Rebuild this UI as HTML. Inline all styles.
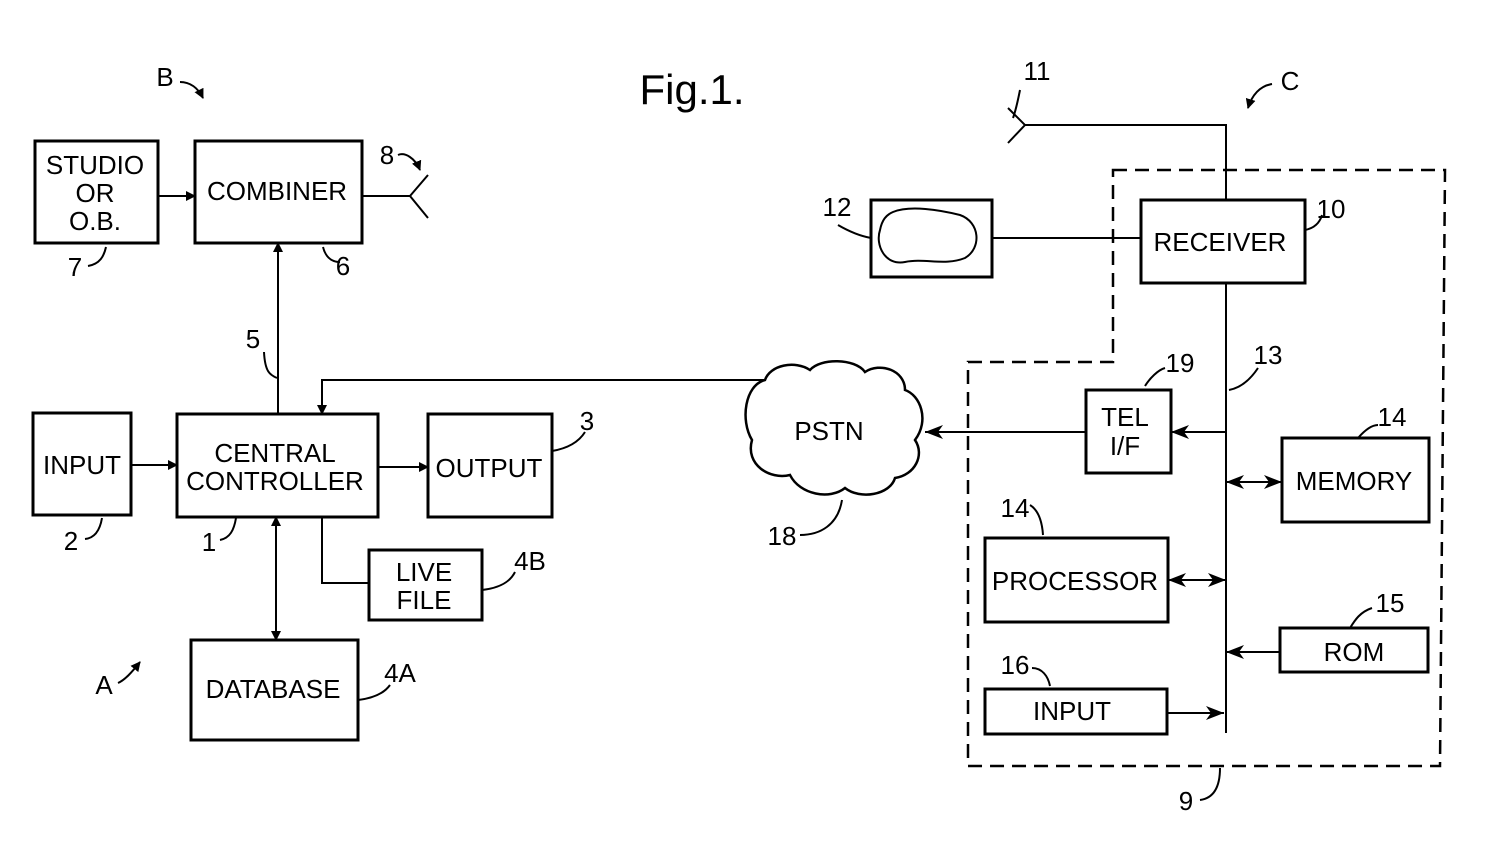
<!DOCTYPE html>
<html><head><style>
html,body{margin:0;padding:0;background:#fff;}
svg{display:block;}
text{font-family:"Liberation Sans",Arial,sans-serif;fill:#000;}
</style></head><body>
<svg width="1488" height="850" viewBox="0 0 1488 850" xmlns="http://www.w3.org/2000/svg">
<defs>
<marker id="a" markerWidth="10" markerHeight="10" refX="9" refY="5" orient="auto-start-reverse" markerUnits="userSpaceOnUse"><path d="M0,0 L10,5 L0,10 z" fill="#000"/></marker>
<marker id="b" markerWidth="20" markerHeight="20" refX="18" refY="10" orient="auto-start-reverse" markerUnits="userSpaceOnUse"><path d="M0,3 L18,10 L0,17 L5,10 z" fill="#000"/></marker>
</defs>
<g fill="none" stroke="#000" stroke-width="3">
<rect x="35" y="141" width="123" height="102"/>
<rect x="195" y="141" width="167" height="102"/>
<rect x="33" y="413" width="98" height="102"/>
<rect x="177" y="414" width="201" height="103"/>
<rect x="428" y="414" width="124" height="103"/>
<rect x="369" y="550" width="113" height="70"/>
<rect x="191" y="640" width="167" height="100"/>
<rect x="871" y="200" width="121" height="77"/>
<rect x="1141" y="200" width="164" height="83"/>
<rect x="1086" y="390" width="85" height="83"/>
<rect x="1282" y="438" width="147" height="84"/>
<rect x="985" y="538" width="183" height="84"/>
<rect x="1280" y="628" width="148" height="44"/>
<rect x="985" y="689" width="182" height="45"/>
</g>
<path d="M1113,170 L1445,170 L1440,766 L968,766 L968,362 L1113,362 Z" fill="none" stroke="#000" stroke-width="2.5" stroke-dasharray="14,8"/>
<g fill="none" stroke="#000" stroke-width="2">
<path d="M893,212 C910,205 940,210 960,215 C980,222 982,248 965,258 C945,266 925,258 905,262 C885,266 875,245 880,230 C882,220 886,215 893,212 Z"/>
<line x1="158" y1="196" x2="195" y2="196" marker-end="url(#a)"/>
<line x1="131" y1="465" x2="177" y2="465" marker-end="url(#a)"/>
<line x1="378" y1="467" x2="428" y2="467" marker-end="url(#a)"/>
<line x1="362" y1="196" x2="410" y2="196"/>
<path d="M428,175 L410,196 L428,218"/>
<line x1="278" y1="414" x2="278" y2="243" marker-end="url(#a)"/>
<path d="M765,380 L322,380 L322,414" marker-end="url(#a)"/>
<path d="M322,517 L322,583 L369,583"/>
<line x1="276" y1="517" x2="276" y2="640" marker-start="url(#a)" marker-end="url(#a)"/>
<path d="M1226,200 L1226,125 L1025,125"/>
<path d="M1008,108 L1025,125 L1008,143"/>
<line x1="992" y1="238" x2="1141" y2="238"/>
<line x1="1226" y1="283" x2="1226" y2="733"/>
<line x1="1086" y1="432" x2="925" y2="432" marker-end="url(#b)"/>
<line x1="1226" y1="432" x2="1171" y2="432" marker-end="url(#b)"/>
<line x1="1226" y1="482" x2="1282" y2="482" marker-start="url(#b)" marker-end="url(#b)"/>
<line x1="1168" y1="580" x2="1226" y2="580" marker-start="url(#b)" marker-end="url(#b)"/>
<line x1="1280" y1="652" x2="1226" y2="652" marker-end="url(#b)"/>
<line x1="1167" y1="713" x2="1224" y2="713" marker-end="url(#b)"/>
<path d="M765,380 C745,385 740,420 752,440 C745,465 770,480 790,475 C800,495 830,500 845,488 C860,500 890,495 895,478 C915,475 925,455 915,440 C930,420 920,395 905,390 C905,370 880,362 865,372 C855,358 820,358 810,370 C795,360 770,365 765,380 Z" stroke-width="2.5" fill="#fff"/>
<path d="M180,82 C190,82 198,88 203,98" marker-end="url(#a)"/>
<path d="M1272,84 C1260,86 1252,95 1248,108" marker-end="url(#a)"/>
<path d="M398,155 C405,152 415,158 420,170" marker-end="url(#a)"/>
<path d="M118,683 C125,680 132,672 140,662" marker-end="url(#a)"/>
<path d="M88,266 C100,264 104,256 106,247"/>
<path d="M340,262 C330,262 325,255 323,247"/>
<path d="M277,378 C270,375 265,372 264,352"/>
<path d="M85,539 C95,538 100,530 102,518"/>
<path d="M220,540 C230,538 234,530 236,518"/>
<path d="M552,451 C570,448 580,440 585,432"/>
<path d="M482,590 C500,588 510,582 515,572"/>
<path d="M358,700 C375,698 385,692 390,685"/>
<path d="M1020,90 C1018,100 1016,110 1013,118"/>
<path d="M838,225 C850,232 860,236 871,238"/>
<path d="M1305,230 C1315,228 1320,222 1322,215"/>
<path d="M1145,386 C1150,378 1158,370 1165,368"/>
<path d="M1229,390 C1240,388 1250,380 1258,368"/>
<path d="M1358,438 C1365,430 1372,425 1378,425"/>
<path d="M1350,628 C1355,620 1360,612 1372,608"/>
<path d="M1030,505 C1038,510 1042,520 1043,535"/>
<path d="M1032,668 C1042,668 1048,676 1050,686"/>
<path d="M800,535 C820,535 838,525 842,500"/>
<path d="M1200,800 C1215,798 1220,785 1220,768"/>
</g>
<g font-size="26" text-anchor="middle">
<text x="692" y="104" font-size="42">Fig.1.</text>
<text x="95" y="174">STUDIO</text><text x="95" y="202">OR</text><text x="95" y="230">O.B.</text>
<text x="277" y="200">COMBINER</text>
<text x="82" y="474">INPUT</text>
<text x="275" y="462">CENTRAL</text><text x="275" y="490">CONTROLLER</text>
<text x="489" y="477">OUTPUT</text>
<text x="424" y="581">LIVE</text><text x="424" y="609">FILE</text>
<text x="273" y="698">DATABASE</text>
<text x="829" y="440">PSTN</text>
<text x="1220" y="251">RECEIVER</text>
<text x="1125" y="426">TEL</text><text x="1125" y="455">I/F</text>
<text x="1354" y="490">MEMORY</text>
<text x="1075" y="590">PROCESSOR</text>
<text x="1354" y="661">ROM</text>
<text x="1072" y="720">INPUT</text>
<text x="165" y="86">B</text><text x="1290" y="90">C</text><text x="104" y="694">A</text>
<text x="387" y="164">8</text><text x="75" y="276">7</text><text x="343" y="275">6</text>
<text x="253" y="348">5</text><text x="71" y="550">2</text><text x="209" y="551">1</text>
<text x="587" y="430">3</text><text x="530" y="570">4B</text><text x="400" y="682">4A</text>
<text x="1037" y="80">11</text><text x="837" y="216">12</text><text x="1331" y="218">10</text>
<text x="1180" y="372">19</text><text x="1268" y="364">13</text><text x="1392" y="426">14</text>
<text x="1015" y="517">14</text><text x="1390" y="612">15</text><text x="1015" y="674">16</text>
<text x="782" y="545">18</text><text x="1186" y="810">9</text>
</g>
</svg>
</body></html>
